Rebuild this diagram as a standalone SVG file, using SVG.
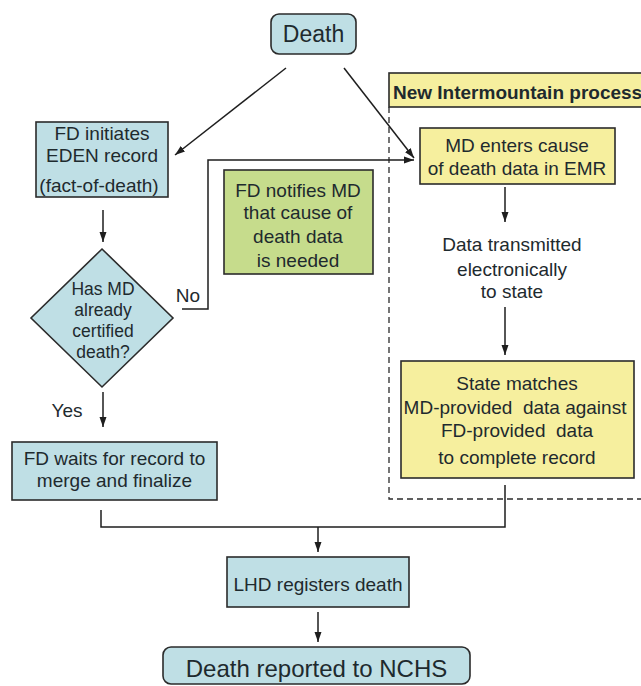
<svg xmlns="http://www.w3.org/2000/svg" width="641" height="686" viewBox="0 0 641 686">
<defs>
<style>
.box{stroke:#2b2b2b;stroke-width:1.6}
.blue{fill:#bfdfe5}
.yellow{fill:#f6ef9e}
.green{fill:#c6dc8c}
.t{font-family:"Liberation Sans",Arial,sans-serif;font-size:19px;fill:#1e2a2e;text-anchor:middle;white-space:pre}
.line{fill:none;stroke:#1e1e1e;stroke-width:1.5}
.arrow{marker-end:url(#ah)}
</style>
<marker id="ah" markerUnits="userSpaceOnUse" markerWidth="10" markerHeight="10" viewBox="0 0 10 10" refX="10" refY="5" orient="auto">
<path d="M0,1.5 L10,5 L0,8.5 z" fill="#1e1e1e"/>
</marker>
</defs>
<rect width="641" height="686" fill="#ffffff"/>

<g id="intermountain-region">
<path d="M389,107 L389,499 L641,499" fill="none" stroke="#2b2b2b" stroke-width="1.3" stroke-dasharray="6,4"/>
<rect x="389" y="73" width="260" height="34" class="box yellow"/>
<text x="393" y="99" style="font-family:'Liberation Sans',Arial,sans-serif;font-size:19px;font-weight:bold;fill:#1e2a2e">New Intermountain process</text>
</g>

<g id="connectors">
<path class="line arrow" d="M286,68 L175,155"/>
<path class="line arrow" d="M344,68 L414,158"/>
<path class="line arrow" d="M103,210 L103,242"/>
<path class="line arrow" d="M182,309 L208,309 L208,160 L414,160"/>
<path class="line arrow" d="M103,392 L103,427"/>
<path class="line arrow" d="M505,187 L505,222"/>
<path class="line arrow" d="M505,307 L505,355"/>
<path class="line" d="M101,510 L101,527 L505,527 L505,485"/>
<path class="line arrow" d="M318,527 L318,552"/>
<path class="line arrow" d="M318,612 L318,642"/>
<text x="188" y="302" class="t">No</text>
<text x="67" y="417" class="t">Yes</text>
</g>

<g id="death">
<rect x="271" y="14" width="85" height="40" rx="8" class="box blue"/>
<text x="313.5" y="42" class="t" style="font-size:23px">Death</text>
</g>

<g id="fd-initiates">
<rect x="36" y="122" width="132" height="75" class="box blue"/>
<text x="102" y="140" class="t">FD initiates</text>
<text x="102" y="162" class="t">EDEN record</text>
<text x="99" y="192" class="t">(fact-of-death)</text>
</g>

<g id="md-enters">
<rect x="420" y="128" width="195" height="56" class="box yellow"/>
<text x="517" y="152" class="t">MD enters cause</text>
<text x="517" y="175" class="t">of death data in EMR</text>
</g>

<g id="fd-notifies">
<rect x="224" y="170" width="149" height="104" class="box green"/>
<text x="298" y="197" class="t">FD notifies MD</text>
<text x="298" y="219" class="t">that cause of</text>
<text x="298" y="243" class="t">death data</text>
<text x="298" y="267" class="t">is needed</text>
</g>

<g id="data-transmitted">
<text x="512" y="251" class="t">Data transmitted</text>
<text x="512" y="276" class="t">electronically</text>
<text x="512" y="298" class="t">to state</text>
</g>

<g id="decision">
<polygon points="102,249 173,318 102,387 31,318" class="box blue"/>
<text x="103" y="295" class="t" style="font-size:17.5px">Has MD</text>
<text x="103" y="316" class="t" style="font-size:17.5px">already</text>
<text x="103" y="337" class="t" style="font-size:17.5px">certified</text>
<text x="103" y="358" class="t" style="font-size:17.5px">death?</text>
</g>

<g id="state-matches">
<rect x="401" y="361" width="233" height="117" class="box yellow"/>
<text x="517" y="390" class="t">State matches</text>
<text x="515" y="414" class="t">MD-provided  data against</text>
<text x="517" y="437" class="t">FD-provided  data</text>
<text x="517" y="464" class="t">to complete record</text>
</g>

<g id="fd-waits">
<rect x="12" y="442" width="205" height="58" class="box blue"/>
<text x="114.5" y="465" class="t">FD waits for record to</text>
<text x="114.5" y="487" class="t">merge and finalize</text>
</g>

<g id="lhd">
<rect x="227" y="557" width="182" height="50" class="box blue"/>
<text x="318" y="591" class="t">LHD registers death</text>
</g>

<g id="nchs">
<rect x="163" y="647" width="307" height="37" rx="8" class="box blue"/>
<text x="316.5" y="677" class="t" style="font-size:24px">Death reported to NCHS</text>
</g>
</svg>
